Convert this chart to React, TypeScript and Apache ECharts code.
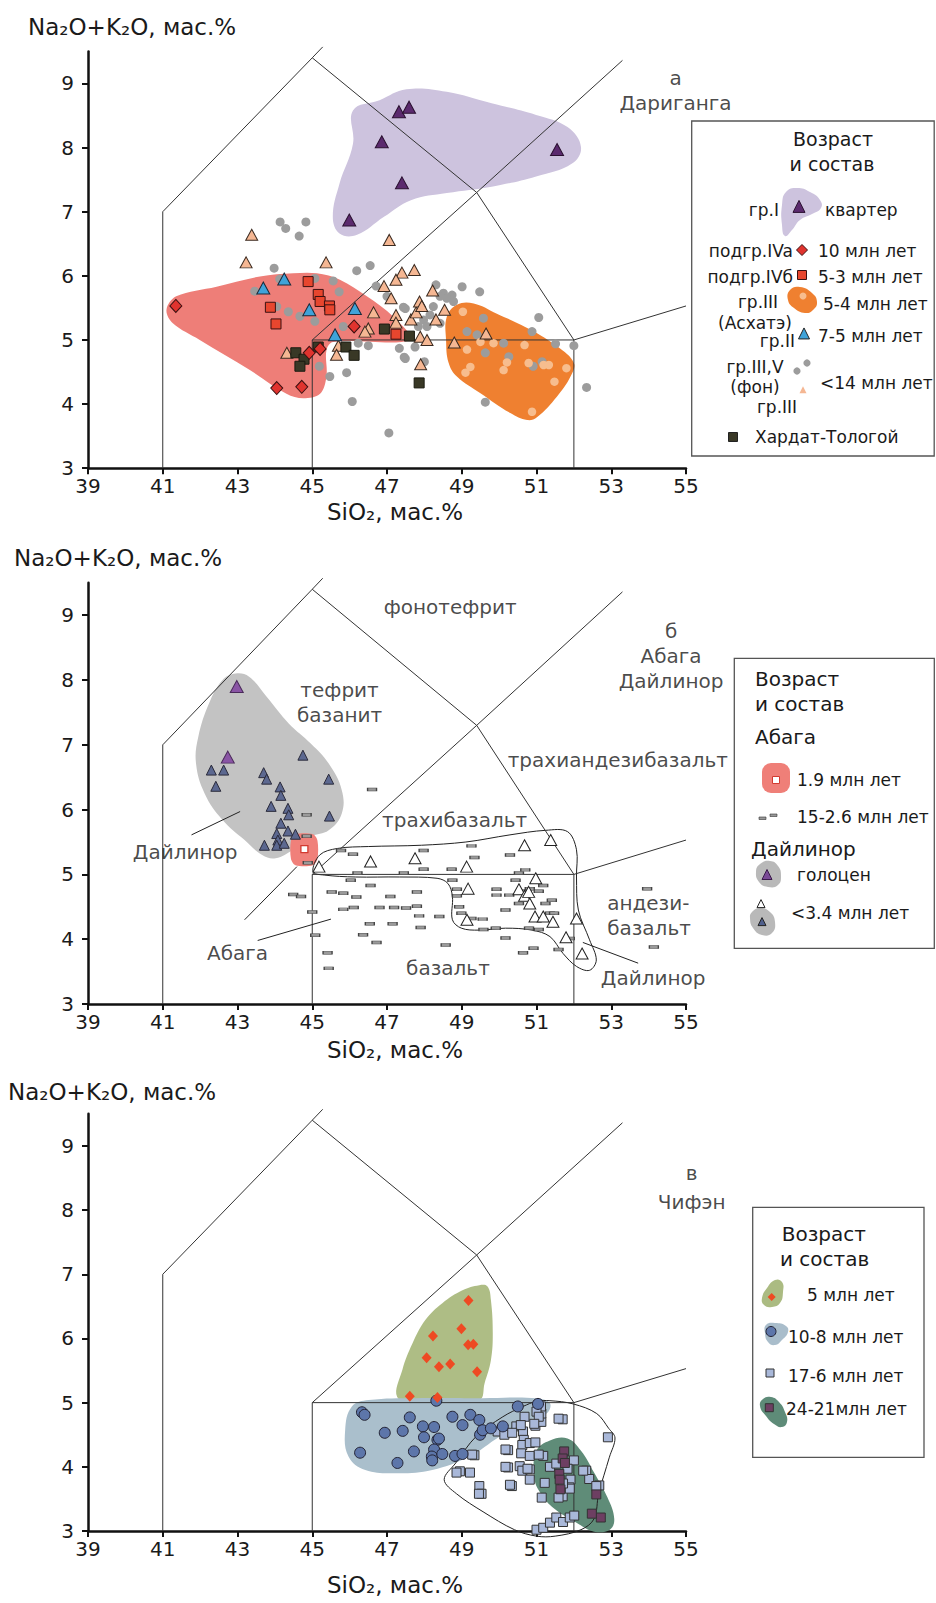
import React, { useEffect, useRef } from 'react';
import * as echarts from 'echarts';

const FONT = 'DejaVu Sans';
const INK = '#1a1a1a';
const xTicks = [39, 41, 43, 45, 47, 49, 51, 53, 55];
const yTicks = [3, 4, 5, 6, 7, 8, 9];

// TAS field boundaries
const tasA = [[41, 3], [41, 7], [45, 9.4], [45.28, 9.57]];
const tasB = [[45, 9.4], [49.4, 7.3], [52, 5]];
const tasC = [[45, 3], [45, 5], [52, 5], [52, 3]];
const tasD = [[45, 5], [49.4, 7.3], [53.3, 9.36]];
const tasE = [[52, 5], [55, 5.53]];

// ---------- Panel a: Дариганга ----------
const p1PurpleBlob = [[46.09, 8.58], [46.8, 8.74], [47.52, 8.91], [48.6, 8.87], [49.8, 8.69], [50.99, 8.51], [51.83, 8.32], [52.19, 8.01], [51.95, 7.75], [50.99, 7.55], [49.8, 7.39], [48.6, 7.29], [47.64, 7.18], [46.92, 6.92], [46.2, 6.64], [45.73, 6.66], [45.55, 6.92], [45.73, 7.44], [46.09, 8.06]];
const p1RedBlob = [[47.62, 5.0], [45.56, 4.97], [45.38, 4.84], [45.38, 4.43], [45.21, 4.16], [44.76, 4.09], [44.31, 4.16], [43.33, 4.53], [41.99, 5.0], [41.27, 5.26], [41.1, 5.47], [41.36, 5.68], [42.44, 5.83], [43.6, 5.99], [44.49, 6.04], [45.12, 6.04], [45.74, 5.94], [46.46, 5.68], [47.17, 5.36]];
const p1OrangeBlob = [[48.6, 5.36], [48.87, 5.55], [49.32, 5.57], [49.94, 5.41], [50.84, 5.16], [51.55, 4.9], [52.0, 4.64], [51.91, 4.43], [51.55, 4.12], [51.02, 3.8], [50.75, 3.75], [50.3, 3.86], [49.5, 4.17], [48.87, 4.43], [48.65, 4.64], [48.58, 5.0]];
const p1Quaternary = [[47.32, 8.56], [47.59, 8.63], [46.86, 8.09], [47.4, 7.45], [45.99, 6.87], [51.55, 7.97]];
const p1IVa = [[41.35, 5.53], [46.12, 5.21], [44.92, 4.8], [44.05, 4.25], [44.72, 4.27], [45.21, 4.86]];
const p1IVb = [[44.89, 5.91], [43.88, 5.51], [44.03, 5.25], [45.16, 5.71], [45.21, 5.6], [45.46, 5.53], [45.47, 5.47], [47.24, 5.09]];
const p1II = [[43.69, 5.81], [44.25, 5.95], [44.92, 5.47], [46.14, 5.49], [45.61, 5.08]];
const p1Hardat = [[44.56, 4.8], [44.78, 4.7], [44.67, 4.59], [45.16, 4.89], [45.9, 4.89], [46.12, 4.76], [46.93, 5.17], [47.6, 5.06], [47.86, 4.33]];
const p1IIIbg = [[43.38, 6.64], [43.23, 6.21], [45.37, 6.21], [47.06, 6.56], [47.73, 6.09], [47.4, 6.05], [47.24, 5.94], [46.92, 5.84], [47.11, 5.65], [46.64, 5.43], [46.5, 5.18], [46.41, 5.13], [47.24, 5.39], [47.24, 5.27], [47.64, 5.32], [47.78, 5.43], [47.87, 5.6], [47.93, 5.53], [48.22, 5.77], [48.54, 5.47], [48.31, 5.32], [47.89, 5.05], [48.07, 5.0], [47.9, 4.62], [48.8, 4.96], [49.65, 5.1], [45.7, 4.91], [45.65, 4.77], [44.32, 4.8]];
const p1Background = [[44.14, 6.84], [44.29, 6.74], [44.65, 6.62], [44.83, 6.84], [43.98, 6.12], [46.19, 6.08], [46.55, 6.16], [43.46, 5.76], [44.13, 5.95], [45.56, 5.92], [45.72, 5.75], [45.07, 5.96], [44.36, 5.44], [44.67, 5.37], [45.07, 5.29], [45.83, 5.21], [46.23, 4.95], [46.5, 4.91], [46.71, 5.84], [47.0, 5.68], [47.44, 5.51], [47.33, 4.87], [47.46, 4.73], [47.75, 4.89], [45.47, 4.43], [45.92, 4.49], [45.19, 4.59], [46.07, 4.04], [47.05, 3.55], [48.31, 5.86], [48.51, 5.73], [48.74, 5.7], [48.6, 5.65], [48.78, 5.6], [48.42, 5.68], [48.24, 5.52], [48.15, 5.39], [47.98, 5.31], [48.07, 5.21], [48.42, 5.26], [47.84, 5.21], [49.01, 5.83], [49.48, 5.75], [47.49, 5.49], [47.49, 4.71], [48.0, 4.66], [52.34, 4.26], [52.0, 4.91], [51.06, 5.35], [50.88, 5.13], [51.51, 4.94], [49.58, 5.34], [49.14, 5.13], [49.41, 5.08], [49.63, 4.8], [50.12, 4.95], [50.26, 4.74], [50.91, 4.59], [51.15, 4.66], [49.63, 4.03], [44.05, 5.52]];
const p1Askhate = [[49.03, 5.44], [49.14, 4.85], [49.5, 4.97], [49.85, 4.95], [50.68, 4.92], [50.12, 4.53], [50.21, 4.65], [49.23, 4.58], [49.1, 4.49], [50.79, 4.64], [51.19, 4.61], [51.33, 4.61], [51.8, 4.56], [51.48, 4.35], [50.88, 3.88]];

// ---------- Panel б: Абага, Дайлинор ----------
const p2GrayBlob = [[42.95, 8.1], [43.31, 8.05], [43.78, 7.74], [44.37, 7.33], [44.96, 7.02], [45.44, 6.71], [45.79, 6.3], [45.79, 5.94], [45.44, 5.68], [44.96, 5.58], [44.49, 5.38], [44.02, 5.25], [43.66, 5.3], [43.19, 5.53], [42.6, 5.84], [42.12, 6.25], [41.89, 6.71], [41.95, 7.12], [42.24, 7.64], [42.6, 8.0]];
const p2RedBlob = [[44.55, 5.62], [45.02, 5.62], [45.14, 5.52], [45.14, 5.24], [45.02, 5.14], [44.55, 5.14], [44.43, 5.24], [44.43, 5.52]];
const p2Outline = [[45.02, 5.04], [45.2, 5.3], [45.67, 5.4], [46.5, 5.43], [47.92, 5.45], [49.11, 5.5], [50.29, 5.61], [51.24, 5.68], [51.83, 5.66], [52.07, 5.38], [52.07, 4.96], [52.12, 4.45], [52.42, 3.99], [52.6, 3.68], [52.42, 3.52], [52.07, 3.58], [51.71, 3.78], [51.36, 4.04], [50.88, 4.14], [50.17, 4.17], [49.46, 4.14], [48.99, 4.17], [48.75, 4.3], [48.75, 4.66], [48.63, 4.86], [48.34, 4.94], [47.33, 4.96], [46.15, 4.96], [45.32, 4.99]];
const p2Holocene = [[42.98, 7.9], [42.74, 6.81]];
const p2DailinorOld = [[42.3, 6.61], [42.63, 6.61], [42.42, 6.36], [43.7, 6.57], [43.78, 6.47], [44.14, 6.35], [44.16, 6.22], [43.9, 6.05], [44.35, 6.02], [44.37, 5.92], [44.16, 5.79], [44.05, 5.63], [44.08, 5.53], [44.35, 5.67], [44.55, 5.62], [43.72, 5.45], [44.05, 5.45], [44.25, 5.48], [44.75, 6.84], [45.44, 6.47], [45.46, 5.9]];
const p2DailinorField = [[45.18, 5.12], [46.56, 5.2], [47.75, 5.25], [49.13, 5.12], [50.68, 5.45], [51.38, 5.53], [50.98, 4.94], [49.17, 4.78], [49.14, 4.3], [50.53, 4.77], [50.68, 4.67], [50.79, 4.73], [50.82, 4.55], [50.96, 4.35], [51.18, 4.35], [51.44, 4.27], [52.07, 4.32], [51.79, 4.03], [52.22, 3.78]];
const p2Abaga19 = [[44.79, 5.39]];
const p2Abaga15 = [[46.6, 6.31], [44.85, 5.92], [44.85, 5.59], [44.88, 5.18], [44.49, 4.69], [44.7, 4.66], [45.77, 5.37], [46.09, 5.31], [46.21, 5.02], [46.03, 4.91], [45.52, 4.73], [45.83, 4.71], [46.18, 4.65], [45.0, 4.42], [45.83, 4.46], [46.11, 4.49], [46.56, 4.83], [47.09, 4.66], [46.8, 4.49], [47.19, 4.49], [47.51, 4.48], [46.54, 4.24], [47.15, 4.24], [46.36, 4.07], [46.72, 3.95], [45.08, 4.06], [45.41, 3.79], [45.44, 3.55], [47.45, 5.02], [47.98, 5.37], [47.98, 5.08], [47.8, 4.73], [47.8, 4.51], [47.86, 4.36], [47.9, 4.18], [48.4, 4.35], [48.57, 3.91], [48.75, 4.91], [48.87, 4.77], [48.87, 4.67], [48.93, 4.5], [48.99, 4.4], [48.73, 5.08], [49.26, 5.44], [49.34, 5.26], [49.26, 4.32], [49.56, 4.31], [49.58, 4.15], [49.93, 4.77], [49.93, 4.68], [49.91, 4.17], [50.17, 4.02], [50.29, 5.3], [50.53, 5.02], [50.44, 4.91], [50.7, 5.07], [50.73, 4.74], [50.53, 4.55], [51.06, 4.74], [51.24, 4.55], [51.41, 4.6], [51.36, 4.4], [51.18, 4.83], [50.82, 4.78], [51.06, 4.15], [50.92, 3.86], [50.64, 3.79], [51.59, 3.84], [51.47, 4.4], [51.89, 4.01], [50.8, 4.17], [53.96, 4.78], [54.14, 3.88], [50.17, 4.45], [50.27, 4.68]];
const p2Leaders = [
  [[41.77, 5.61], [43.07, 5.97]],
  [[43.19, 4.3], [44.59, 5.12]],
  [[43.54, 3.98], [45.5, 4.31]],
  [[52.24, 3.95], [53.72, 3.63]],
];

// ---------- Panel в: Чифэн ----------
const p3GreenBlob = [[47.27, 5.09], [47.41, 5.51], [47.68, 5.92], [48.03, 6.29], [48.48, 6.55], [49.02, 6.75], [49.47, 6.83], [49.69, 6.81], [49.78, 6.6], [49.83, 6.08], [49.78, 5.66], [49.61, 5.3], [49.47, 5.04], [48.39, 5.02], [47.76, 5.02]];
const p3BlueBlob = [[45.88, 4.57], [46.06, 4.94], [46.51, 5.04], [47.76, 5.07], [49.56, 5.07], [51.0, 5.07], [51.36, 4.99], [51.27, 4.83], [50.82, 4.73], [50.01, 4.47], [49.2, 4.16], [48.21, 3.95], [47.32, 3.9], [46.42, 3.95], [45.97, 4.16]];
const p3DarkBlob = [[50.94, 3.83], [51.0, 4.25], [51.36, 4.41], [51.83, 4.44], [52.19, 4.25], [52.54, 3.91], [52.9, 3.52], [53.08, 3.19], [52.96, 3.02], [52.54, 2.99], [52.07, 3.13], [51.47, 3.35], [51.12, 3.58]];
const p3Outline = [[48.53, 3.8], [48.84, 4.06], [49.38, 4.47], [50.1, 4.78], [50.64, 4.94], [51.0, 5.02], [51.36, 5.03], [51.98, 4.98], [52.61, 4.83], [52.93, 4.6], [53.1, 4.45], [52.95, 4.15], [52.8, 3.86], [52.66, 3.58], [52.54, 3.19], [52.19, 3.02], [51.5, 2.92], [51.0, 2.92], [50.41, 3.02], [49.57, 3.3], [48.86, 3.58]];
const p3Ma5 = [[49.18, 6.59], [48.99, 6.15], [48.23, 6.04], [49.17, 5.9], [49.31, 5.91], [48.06, 5.7], [48.39, 5.56], [48.69, 5.6], [49.41, 5.48], [47.61, 5.1], [48.35, 5.08]];
const p3Ma10 = [[46.33, 4.85], [46.4, 4.81], [46.94, 4.53], [47.42, 4.56], [47.61, 4.77], [47.96, 4.63], [48.26, 4.62], [47.99, 4.46], [48.35, 4.42], [48.39, 4.44], [48.26, 4.27], [48.2, 4.16], [48.21, 4.1], [48.48, 4.2], [47.72, 4.24], [47.28, 4.06], [46.28, 4.22], [48.75, 4.78], [49.02, 4.65], [49.23, 4.81], [49.47, 4.73], [48.82, 4.17], [49.02, 4.2], [48.32, 5.03], [49.49, 4.5], [49.56, 4.57], [49.78, 4.6], [50.1, 4.63], [50.5, 4.94], [51.04, 4.98]];
const p3Ma17 = [[50.68, 4.78], [50.46, 4.63], [50.97, 4.64], [51.13, 4.7], [51.07, 4.9], [51.13, 4.83], [51.7, 4.74], [49.96, 4.55], [50.14, 4.5], [50.64, 4.55], [50.66, 4.42], [50.62, 4.34], [50.82, 4.37], [50.97, 4.38], [50.24, 4.26], [50.59, 4.21], [50.82, 4.17], [51.18, 4.17], [50.55, 4.01], [50.62, 3.94], [50.82, 3.96], [50.24, 3.99], [49.34, 4.18], [48.95, 3.93], [49.22, 3.91], [49.47, 3.7], [49.53, 3.58], [50.34, 3.7], [51.36, 4.0], [52.0, 4.1], [52.33, 3.94], [52.41, 3.81], [52.68, 3.71], [51.91, 3.8], [51.88, 3.68], [51.7, 3.54], [52.91, 4.46], [51.22, 3.75], [51.0, 3.02], [51.18, 3.05], [51.36, 3.13], [51.53, 3.21], [51.71, 3.14], [51.89, 3.21], [52.01, 3.24], [51.14, 3.52], [51.59, 3.52], [51.89, 3.66], [52.6, 3.7], [52.25, 3.94], [51.59, 4.75], [51.12, 4.94], [51.0, 4.86], [51.06, 4.78], [50.94, 4.67], [50.58, 4.65], [50.35, 4.53], [50.17, 4.27], [50.17, 4.0], [50.29, 3.72], [49.28, 4.19], [49.46, 3.58], [48.86, 3.91], [50.82, 3.8], [50.76, 3.97], [51.06, 4.19], [51.53, 4.05], [51.71, 3.74], [51.83, 3.97]];
const p3Ma24 = [[51.74, 4.24], [51.7, 4.13], [51.76, 4.06], [51.61, 3.89], [51.62, 3.8], [51.64, 3.65], [52.6, 3.57], [52.72, 3.21], [52.48, 3.27]];

// text annotations inside the plots
const p1Notes = [
  { t: 'а', x: 54.72, y: 9.08 },
  { t: 'Дариганга', x: 54.72, y: 8.69 },
];
const p2Notes = [
  { t: 'фонотефрит', x: 48.69, y: 9.13 },
  { t: 'тефрит\nбазанит', x: 45.73, y: 7.65 },
  { t: 'трахиандезибазальт', x: 50.23, y: 6.76, align: 'left' },
  { t: 'трахибазальт', x: 48.81, y: 5.84 },
  { t: 'андези-\nбазальт', x: 52.89, y: 4.36, align: 'left' },
  { t: 'базальт', x: 48.63, y: 3.55 },
  { t: 'Дайлинор', x: 41.6, y: 5.35 },
  { t: 'Абага', x: 43.0, y: 3.78 },
  { t: 'Дайлинор', x: 52.72, y: 3.4, align: 'left' },
  { t: 'б', x: 54.6, y: 8.76 },
  { t: 'Абага', x: 54.6, y: 8.37 },
  { t: 'Дайлинор', x: 54.6, y: 7.98 },
];
const p3Notes = [
  { t: 'в', x: 55.15, y: 8.57 },
  { t: 'Чифэн', x: 55.15, y: 8.13 },
];

const blob = (gi: number, pts: number[][], fill: string, stroke = 'none', smooth = 0.4) => ({
  type: 'custom', xAxisIndex: gi, yAxisIndex: gi, z: stroke === 'none' ? 1 : 2, silent: true, clip: false,
  data: pts, encode: { x: 0, y: 1 },
  renderItem: (params: any, api: any) => {
    if (params.dataIndex !== 0) return null;
    return {
      type: 'polygon',
      shape: { points: pts.map((p) => api.coord(p)), smooth },
      style: { fill, stroke, lineWidth: 1 },
    };
  },
});

const poly = (gi: number, pts: number[][], color = '#2a2a2a', width = 1) => ({
  type: 'line', xAxisIndex: gi, yAxisIndex: gi, data: pts, symbol: 'none', z: 2, silent: true, clip: false,
  lineStyle: { color, width }, animation: false,
});

const sc = (gi: number, data: number[][], symbol: string, size: any, color: string, border?: string, bw = 1) => ({
  type: 'scatter', xAxisIndex: gi, yAxisIndex: gi, data, symbol, symbolSize: size, z: 3, silent: true, clip: false,
  itemStyle: { color, borderColor: border || color, borderWidth: border ? bw : 0, opacity: 1 },
});

const notes = (gi: number, items: any[]) => ({
  type: 'scatter', xAxisIndex: gi, yAxisIndex: gi, z: 5, silent: true, clip: false, symbolSize: 1,
  itemStyle: { color: 'rgba(0,0,0,0)' },
  data: items.map((it) => ({ value: [it.x, it.y], name: it.t, label: { align: it.align || 'center' } })),
  label: { show: true, position: 'inside', formatter: '{b}', fontSize: 20, fontFamily: FONT, color: INK, lineHeight: 25 },
});

const tas = (gi: number) => [tasA, tasB, tasC, tasD, tasE].map((s) => poly(gi, s, '#333', 1));

// legend helpers (pixel-space swatches)
const txt = (text: string, x: number, y: number, align = 'left', size = 17) => ({
  type: 'text', x, y, z: 20, silent: true,
  style: { text, fontSize: size, fontFamily: FONT, fill: INK, align, verticalAlign: 'middle' },
});
const triG = (cx: number, cy: number, s: number, fill: string, stroke = '#222') => ({
  type: 'polygon', z: 21, silent: true,
  shape: { points: [[cx, cy - s * 0.55], [cx + s / 2, cy + s * 0.45], [cx - s / 2, cy + s * 0.45]] },
  style: { fill, stroke, lineWidth: 1 },
});
const diaG = (cx: number, cy: number, s: number, fill: string, stroke = '#3a1010') => ({
  type: 'polygon', z: 21, silent: true,
  shape: { points: [[cx, cy - s / 2], [cx + s / 2, cy], [cx, cy + s / 2], [cx - s / 2, cy]] },
  style: { fill, stroke, lineWidth: stroke === 'none' ? 0 : 1 },
});
const sqG = (cx: number, cy: number, s: number, fill: string, stroke = '#222') => ({
  type: 'rect', z: 21, silent: true, shape: { x: cx - s / 2, y: cy - s / 2, width: s, height: s },
  style: { fill, stroke, lineWidth: 1 },
});
const cirG = (cx: number, cy: number, r: number, fill: string, stroke = 'none') => ({
  type: 'circle', z: 21, silent: true, shape: { cx, cy, r }, style: { fill, stroke, lineWidth: 1 },
});
const blobG = (points: number[][], fill: string) => ({
  type: 'polygon', z: 20, silent: true, shape: { points, smooth: 0.5 }, style: { fill },
});
const boxG = (x: number, y: number, w: number, h: number) => ({
  type: 'rect', z: 19, silent: true, shape: { x, y, width: w, height: h },
  style: { fill: '#fff', stroke: '#555', lineWidth: 1.3 },
});

const graphics = [
  // axis titles
  txt('Na₂O+K₂O, мас.%', 28, 27, 'left', 23),
  txt('SiO₂, мас.%', 395, 512, 'center', 23),
  txt('Na₂O+K₂O, мас.%', 14, 558, 'left', 23),
  txt('SiO₂, мас.%', 395, 1050, 'center', 23),
  txt('Na₂O+K₂O, мас.%', 8, 1092, 'left', 23),
  txt('SiO₂, мас.%', 395, 1585, 'center', 23),

  // legend a
  boxG(691.7, 121, 242.5, 335),
  txt('Возраст', 833, 139, 'center', 19),
  txt('и состав', 832, 164, 'center', 19),
  blobG([[786, 192], [797, 188], [810, 192], [820, 200], [821, 208], [812, 214], [800, 220], [792, 230], [785, 236], [782, 225], [782, 205]], '#cdc3de'),
  triG(799, 207, 12, '#5b2a6e', '#2a1030'),
  txt('гр.I', 779, 210, 'right'),
  txt('квартер', 825, 210),
  txt('подгр.IVa', 793, 251, 'right'),
  diaG(802, 250, 11, '#e0332e'),
  txt('10 млн лет', 818, 251),
  txt('подгр.IVб', 793, 277, 'right'),
  sqG(802, 275, 9, '#e8462e', '#3a1010'),
  txt('5-3 млн лет', 818, 277),
  txt('гр.III', 758, 302, 'center'),
  blobG([[790, 290], [800, 287], [812, 293], [817, 302], [813, 310], [805, 313], [794, 308], [788, 300]], '#ef8030'),
  cirG(803, 296, 3.5, '#f7bd8e'),
  txt('5-4 млн лет', 823, 304),
  txt('(Асхатэ)', 755, 323, 'center'),
  txt('гр.II', 795, 341, 'right'),
  triG(804, 334, 11, '#3fa3d9'),
  txt('7-5 млн лет', 818, 336),
  txt('гр.III,V', 755, 367, 'center'),
  cirG(807, 363, 3.6, '#9c9c9c'),
  cirG(797, 371, 3.6, '#9c9c9c'),
  txt('(фон)', 755, 387, 'center'),
  txt('<14 млн лет', 820, 383),
  triG(803, 390, 7, '#f5b793', 'none'),
  txt('гр.III', 777, 407, 'center'),
  sqG(733, 437, 9, '#393826', '#222'),
  txt('Хардат-Тологой', 755, 437),

  // legend б
  boxG(734.3, 658.3, 200, 290),
  txt('Возраст', 755, 679, 'left', 20),
  txt('и состав', 755, 704, 'left', 20),
  txt('Абага', 755, 737, 'left', 20),
  { type: 'rect', z: 20, silent: true, shape: { x: 762, y: 763, width: 28, height: 30, r: 9 }, style: { fill: '#ef7f78' } },
  sqG(776, 780, 7, '#fff', '#d23a30'),
  txt('1.9 млн лет', 797, 780),
  { type: 'rect', z: 21, silent: true, shape: { x: 759, y: 817, width: 7, height: 2.5 }, style: { fill: '#999', stroke: '#333', lineWidth: 0.6 } },
  { type: 'rect', z: 21, silent: true, shape: { x: 770, y: 814, width: 7, height: 2.5 }, style: { fill: '#999', stroke: '#333', lineWidth: 0.6 } },
  txt('15-2.6 млн лет', 797, 817),
  txt('Дайлинор', 751, 849, 'left', 20),
  blobG([[760, 864], [770, 861], [778, 866], [781, 876], [778, 885], [768, 887], [759, 882], [756, 872]], '#b9b9b9'),
  triG(767, 875, 10, '#7a4a96', '#3a1a4a'),
  txt('голоцен', 797, 875),
  triG(761, 904, 8, '#fff', '#222'),
  blobG([[752, 912], [760, 908], [770, 912], [775, 922], [772, 933], [762, 935], [753, 928], [750, 918]], '#b9b9b9'),
  triG(762, 922, 8, '#4f5f8c', '#222'),
  txt('<3.4 млн лет', 791, 913),

  // legend в
  boxG(752.7, 1207.3, 171.3, 250),
  txt('Возраст', 781.7, 1234, 'left', 20),
  txt('и состав', 780, 1259, 'left', 20),
  blobG([[775, 1280], [782, 1282], [783, 1292], [780, 1303], [772, 1307], [764, 1305], [762, 1298], [767, 1288]], '#abbb82'),
  diaG(771.7, 1297, 8, '#ee4a23', 'none'),
  txt('5 млн лет', 807, 1295),
  blobG([[766, 1325], [775, 1323], [786, 1326], [788, 1332], [782, 1340], [775, 1345], [768, 1342], [765, 1333]], '#a9bdcb'),
  cirG(771, 1331.5, 5, '#5d76aa', '#223'),
  txt('10-8 млн лет', 788, 1337),
  sqG(770, 1373, 8, '#a9b8d9', '#333'),
  txt('17-6 млн лет', 788, 1376),
  blobG([[763, 1399], [771, 1397], [779, 1402], [785, 1412], [787, 1422], [782, 1427], [774, 1424], [766, 1416], [760, 1406]], '#5e8b78'),
  sqG(769.3, 1407.7, 8, '#6d3f62', '#333'),
  txt('24-21млн лет', 786, 1409),
];

const grids = [
  { left: 88, top: 51.4, width: 598, height: 416.8 },
  { left: 88, top: 582.8, width: 598, height: 421.2 },
  { left: 88, top: 1113.8, width: 598, height: 417.2 },
];

const option: any = {
  animation: false,
  backgroundColor: '#fff',
  grid: grids,
  xAxis: grids.map((_, i) => ({
    type: 'value', gridIndex: i, min: 39, max: 55, interval: 2,
    axisLine: { show: true, onZero: false, lineStyle: { color: '#111', width: 2.5 } },
    axisTick: { show: true, length: 6, customValues: xTicks, lineStyle: { color: '#111', width: 2 } },
    axisLabel: { customValues: xTicks, fontSize: 20, fontFamily: FONT, color: INK, margin: 8 },
    splitLine: { show: false },
  })),
  yAxis: grids.map((_, i) => ({
    type: 'value', gridIndex: i, min: 3, max: 9.5, interval: 1,
    axisLine: { show: true, onZero: false, lineStyle: { color: '#111', width: 2.5 } },
    axisTick: { show: true, length: 6, customValues: yTicks, lineStyle: { color: '#111', width: 2 } },
    axisLabel: { customValues: yTicks, fontSize: 20, fontFamily: FONT, color: INK, margin: 14 },
    splitLine: { show: false },
  })),
  graphic: graphics,
  series: [
    // panel a
    blob(0, p1PurpleBlob, '#cdc3de'),
    blob(0, p1RedBlob, '#ee7e78', 'none', 0.35),
    blob(0, p1OrangeBlob, '#ef8030'),
    ...tas(0),
    sc(0, p1Background, 'circle', 9, '#9c9c9c'),
    sc(0, p1Askhate, 'circle', 8.5, '#f7bd8e'),
    sc(0, p1IIIbg, 'triangle', [12, 11], '#f5b793', '#3a2a20'),
    sc(0, p1Hardat, 'rect', 10, '#393826', '#1a1a10'),
    sc(0, p1IVb, 'rect', 10, '#e8462e', '#3a1010'),
    sc(0, p1IVa, 'diamond', [12, 13], '#e0332e', '#3a1010'),
    sc(0, p1II, 'triangle', [13, 12], '#3fa3d9', '#1a2a3a'),
    sc(0, p1Quaternary, 'triangle', [13, 12], '#5b2a6e', '#2a1030'),
    notes(0, p1Notes),

    // panel б
    blob(1, p2GrayBlob, '#c3c3c3'),
    blob(1, p2RedBlob, '#f0807a', 'none', 0.3),
    ...tas(1),
    blob(1, p2Outline, 'none', '#222', 0.35),
    ...p2Leaders.map((l) => poly(1, l, '#222', 1)),
    sc(1, p2Abaga15, 'rect', [9, 3], '#9a9a9a', '#444', 0.8),
    sc(1, p2DailinorField, 'triangle', [12, 11], '#ffffff', '#222'),
    sc(1, p2DailinorOld, 'triangle', [10, 10], '#5c6890', '#2a2a3a'),
    sc(1, p2Holocene, 'triangle', [13, 12], '#8a55a5', '#4a2a5a'),
    sc(1, p2Abaga19, 'rect', 7, '#ffffff', '#d23a30', 1.3),
    notes(1, p2Notes),

    // panel в
    blob(2, p3GreenBlob, '#aebd85'),
    blob(2, p3BlueBlob, '#aabfcc'),
    blob(2, p3DarkBlob, '#5f8c78'),
    ...tas(2),
    blob(2, p3Outline, 'none', '#222', 0.35),
    sc(2, p3Ma17, 'rect', 9, '#a9b8d9', '#333'),
    sc(2, p3Ma10, 'circle', 11, '#5d76aa', '#223'),
    sc(2, p3Ma24, 'rect', 9, '#6d3f62', '#333'),
    sc(2, p3Ma5, 'diamond', [10, 11], '#ee4a23'),
    notes(2, p3Notes),
  ],
};

export default function App() {
  const ref = useRef<HTMLDivElement>(null);
  useEffect(() => {
    if (!ref.current) return;
    const chart = echarts.init(ref.current, null, { renderer: 'svg' });
    chart.setOption(option);
    return () => chart.dispose();
  }, []);
  return (
    <div
      ref={ref}
      style={{ position: 'absolute', left: 0, top: 0, width: 936, height: 1603, background: '#fff' }}
    />
  );
}
